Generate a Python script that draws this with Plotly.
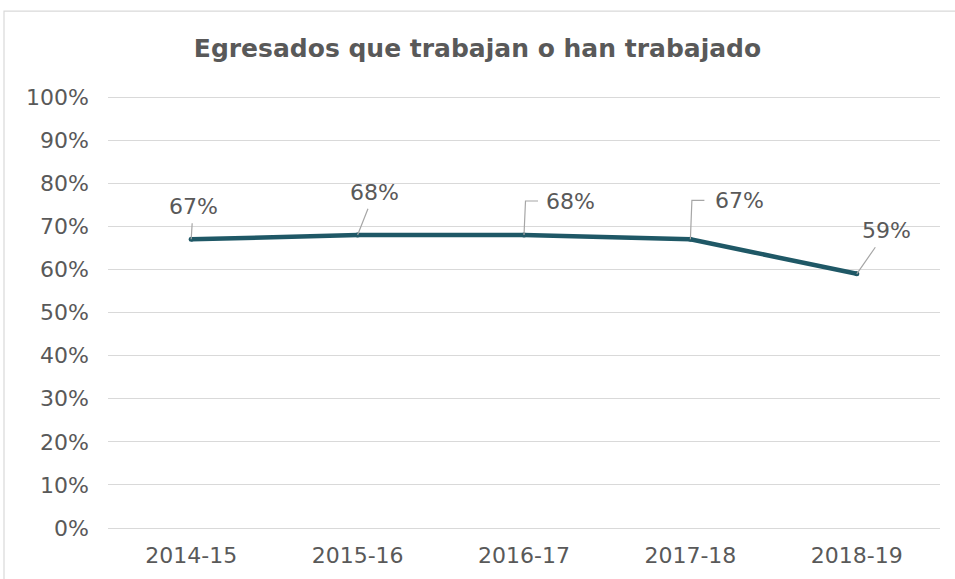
import plotly.graph_objects as go

categories = ["2014-15", "2015-16", "2016-17", "2017-18", "2018-19"]
values = [0.67, 0.68, 0.68, 0.67, 0.59]
labels = ["67%", "68%", "68%", "67%", "59%"]
y_ticks = [i / 10 for i in range(11)]
y_ticktext = [f"{i * 10}%" for i in range(11)]

LINE_COLOR = "#1F5866"
TEXT_COLOR = "#595959"
GRID_COLOR = "#D9D9D9"
LEADER_COLOR = "#A6A6A6"
FONT = "Verdana, DejaVu Sans, sans-serif"

fig = go.Figure()
fig.add_trace(go.Scatter(
    x=categories, y=values, mode="lines+markers",
    line=dict(color=LINE_COLOR, width=4.5),
    marker=dict(size=5, color=LINE_COLOR),
    hoverinfo="skip", showlegend=False,
))

# label offsets (pixels from point to label centre) and leader style
offsets = [(2, -33, "straight"), (17, -43, "straight"), (46, -34, "bent"),
           (49, -39, "bent"), (30, -43, "straight")]

annotations = []
shapes = []
for i, (cat, val, lab) in enumerate(zip(categories, values, labels)):
    ax, ay, kind = offsets[i]
    if kind == "straight":
        annotations.append(dict(
            x=cat, y=val, xref="x", yref="y", text=lab,
            showarrow=True, arrowhead=0, arrowwidth=1.2, arrowcolor=LEADER_COLOR,
            ax=ax, ay=ay, standoff=0, startstandoff=3,
            font=dict(family=FONT, size=22, color=TEXT_COLOR),
        ))
    else:
        annotations.append(dict(
            x=cat, y=val, xref="x", yref="y", text=lab,
            showarrow=False, xshift=ax, yshift=-ay,
            font=dict(family=FONT, size=22, color=TEXT_COLOR),
        ))
        top = -ay
        shapes.append(dict(
            type="path", xref="x", yref="y",
            xsizemode="pixel", ysizemode="pixel",
            xanchor=i, yanchor=val,
            path=f"M 0,0 L 1.5,{top} L 14,{top}",
            line=dict(color=LEADER_COLOR, width=1.2),
        ))

Y_TOP = 1.005
plot_h = 431 * Y_TOP
top_margin = 97 - (plot_h - 431)

# outer chart border (cropped by the view)
shapes.append(dict(
    type="rect", xref="paper", yref="paper",
    x0=(4 - 108) / 832, x1=1.1, y0=-0.2, y1=(528 - 11) / plot_h,
    line=dict(color="#D9D9D9", width=1.2), fillcolor="rgba(0,0,0,0)", layer="below",
))

fig.update_layout(
    width=955, height=579,
    margin=dict(l=108, r=15, t=top_margin, b=51, autoexpand=False),
    paper_bgcolor="white", plot_bgcolor="white",
    title=dict(
        text="<b>Egresados que trabajan o han trabajado</b>",
        x=0.5, xanchor="center", xref="container",
        y=1 - 48 / 579, yanchor="middle", yref="container",
        font=dict(family=FONT, size=25, color=TEXT_COLOR),
    ),
    xaxis=dict(
        type="category", range=[-0.5, 4.5],
        showgrid=False, showline=False, zeroline=False,
        ticks="", ticklabelstandoff=12,
        tickfont=dict(family=FONT, size=22, color=TEXT_COLOR),
    ),
    yaxis=dict(
        range=[0, Y_TOP], tickvals=y_ticks, ticktext=y_ticktext,
        showgrid=True, gridcolor=GRID_COLOR, gridwidth=1.2,
        zeroline=True, zerolinecolor=GRID_COLOR, zerolinewidth=1.2,
        showline=False, ticks="", ticklabelstandoff=18,
        tickfont=dict(family=FONT, size=22, color=TEXT_COLOR),
    ),
    annotations=annotations,
    shapes=shapes,
)

fig.write_html("out.html", config={"displayModeBar": False},
               post_script="document.body.style.margin='0';")
